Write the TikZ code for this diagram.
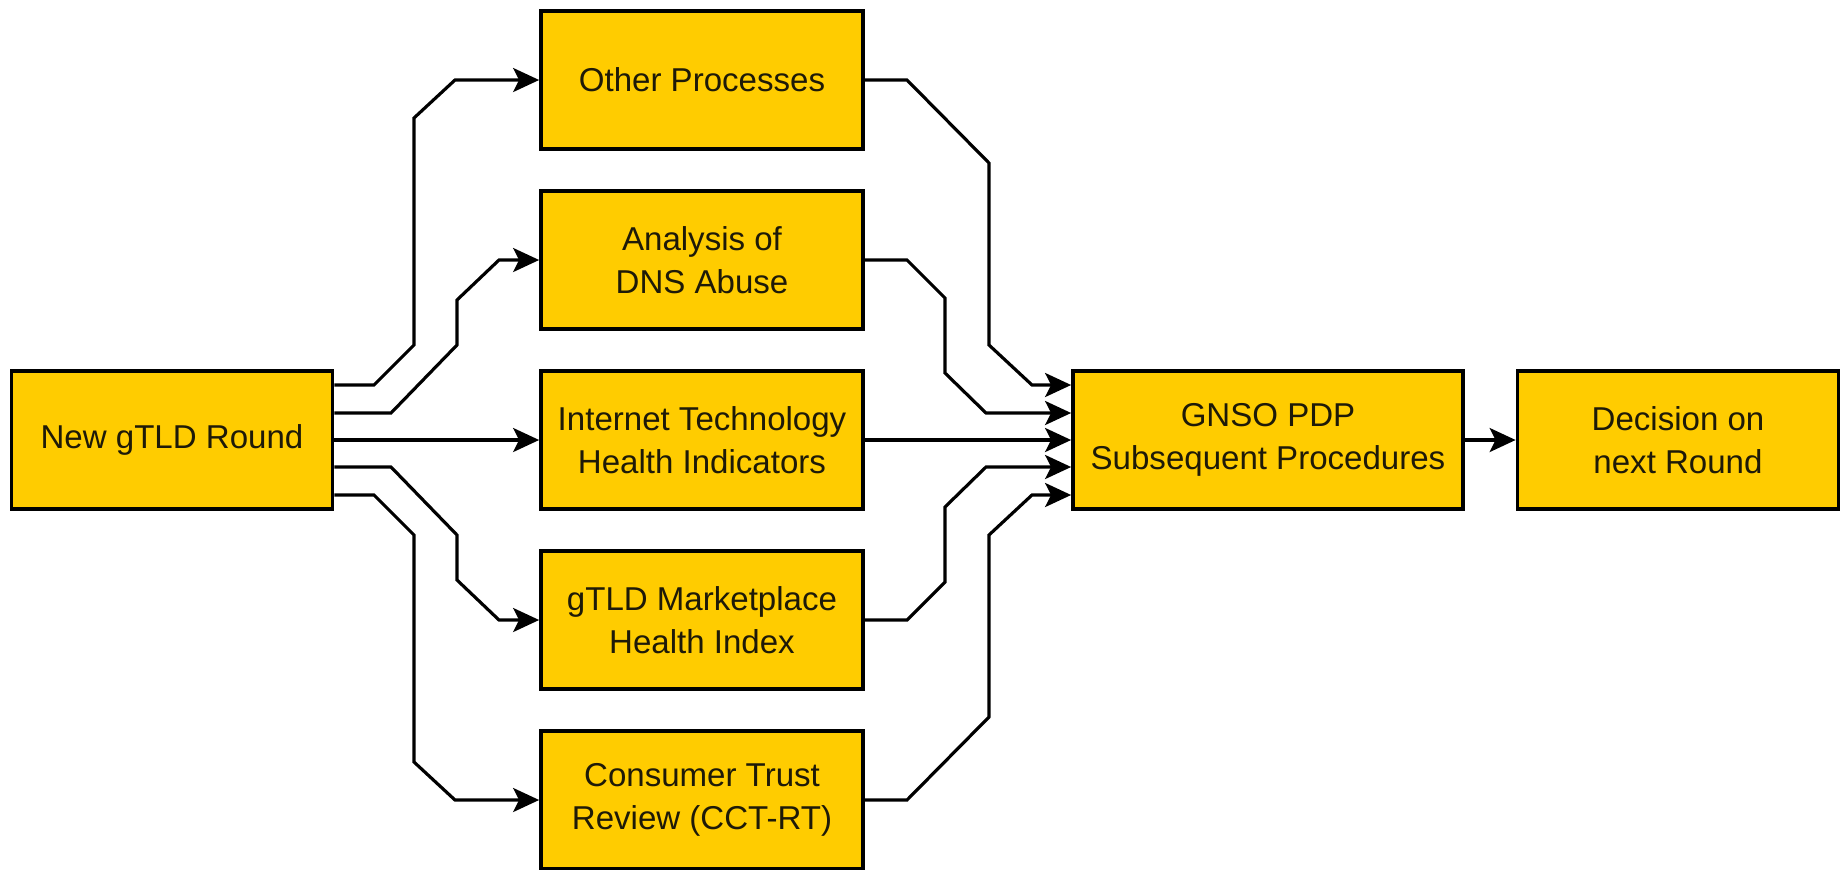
\documentclass[tikz,border=0pt]{standalone}
\usepackage{fontspec}
\setmainfont{Liberation Sans}
\usetikzlibrary{arrows.meta,calc}
\definecolor{boxfill}{HTML}{FFCC00}
\definecolor{boxtext}{HTML}{1E1A08}

\begin{document}
\begin{tikzpicture}[>={Stealth[length=2.6mm,width=2.4mm,inset=0.6mm]},x=0.01cm,y=-0.01cm,line width=0.9pt]
\tikzstyle{every node}=[rectangle,draw,line width=1pt,fill=boxfill,text=boxtext,align=center,minimum height=1.38cm,
  font=\fontsize{9.4}{12.2}\selectfont]
\useasboundingbox (0,0) rectangle (1841,869);

\node[minimum width=3.21cm] (new) at (172,440) {New gTLD Round};
\node[minimum width=3.22cm] (other) at (702,80) {Other Processes};
\node[minimum width=3.22cm] (dns) at (702,260) {Analysis of\\DNS Abuse};
\node[minimum width=3.22cm] (inet) at (702,440) {Internet Technology\\Health Indicators};
\node[minimum width=3.22cm] (market) at (702,620) {gTLD Marketplace\\Health Index};
\node[minimum width=3.22cm] (trust) at (702,800) {Consumer Trust\\Review (CCT-RT)};
\node[minimum width=3.90cm] (gnso) at (1268,440) {GNSO PDP\\Subsequent Procedures};
\node[minimum width=3.21cm] (decision) at (1678,440) {Decision on\\next Round};

% out of the new round
\draw[->] ($(new.east)+(0,-55)$) -- (374,385) -- (414,345) -- (414,118) -- (455,80) -- (other.west);
\draw[->] ($(new.east)+(0,-27)$) -- (391,413) -- (457,345) -- (457,300) -- (499,260) -- (dns.west);
\draw[->] (new.east) -- (inet.west);
\draw[->] ($(new.east)+(0,27)$) -- (391,467) -- (457,535) -- (457,580) -- (499,620) -- (market.west);
\draw[->] ($(new.east)+(0,55)$) -- (374,495) -- (414,535) -- (414,762) -- (455,800) -- (trust.west);

% into the PDP
\draw[->] (other.east) -- (907,80) -- (989,163) -- (989,345) -- (1032,385) -- ($(gnso.west)+(0,-55)$);
\draw[->] (dns.east) -- (907,260) -- (945,298) -- (945,373) -- (986,413) -- ($(gnso.west)+(0,-27)$);
\draw[->] (inet.east) -- (gnso.west);
\draw[->] (market.east) -- (907,620) -- (945,582) -- (945,507) -- (986,467) -- ($(gnso.west)+(0,27)$);
\draw[->] (trust.east) -- (907,800) -- (989,717) -- (989,535) -- (1032,495) -- ($(gnso.west)+(0,55)$);

\draw[->] (gnso.east) -- (decision.west);
\end{tikzpicture}
\end{document}
